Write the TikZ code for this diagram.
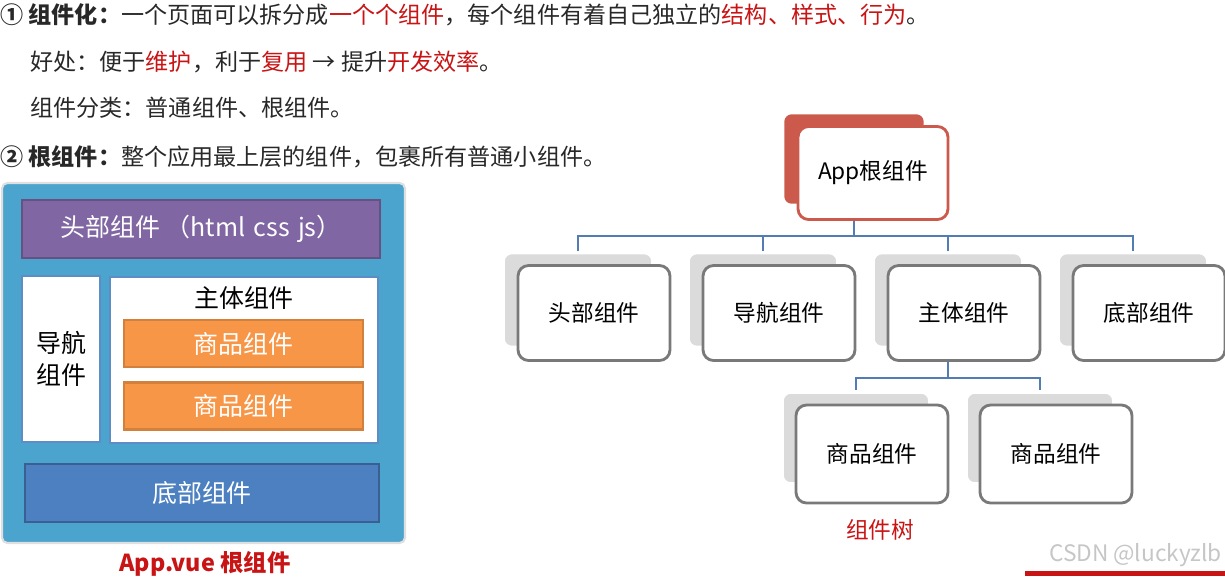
\documentclass[tikz,border=0pt]{standalone}
\usepackage{fontspec}
\setmainfont{Noto Sans CJK SC}
\usepackage{xcolor}
\usepackage{tikz}
\usetikzlibrary{calc}

\definecolor{hlred}{RGB}{200,20,20}
\definecolor{txtgray}{RGB}{40,40,40}
\definecolor{framebl}{RGB}{74,164,206}
\definecolor{headpu}{RGB}{128,102,162}
\definecolor{orng}{RGB}{247,150,70}
\definecolor{footbl}{RGB}{76,128,192}
\definecolor{rootred}{RGB}{203,90,76}
\definecolor{linebl}{RGB}{84,124,180}

\begin{document}
\begin{tikzpicture}[x=0.02cm, y=-0.02cm,
  t/.style={anchor=west, inner sep=0pt, font=\fontsize{13.15}{15}\selectfont, text=txtgray},
  blk/.style={rectangle, draw, line width=1.2pt, inner sep=0pt, font=\fontsize{14.2}{18}\selectfont},
  sh/.style={rectangle, rounded corners=5pt, fill=gray!28, draw=white, line width=2pt,
    minimum width=3cm, minimum height=1.9cm},
  fr/.style={rectangle, rounded corners=6pt, fill=white, draw=gray!95!black, line width=1.6pt,
    minimum width=3.04cm, minimum height=1.9cm, font=\fontsize{12.9}{15}\selectfont},
  conn/.style={linebl, line width=0.7pt}]

\useasboundingbox (0,0) rectangle (1225,576);

% Text lines
\node[t] (l1) at (0,15) {\textbf{① 组件化：}一个页面可以拆分成\textcolor{hlred}{一个个组件}，每个组件有着自己独立的\textcolor{hlred}{结构、样式、行为}。};
\node[t] (l2) at (30,62) {好处：便于\textcolor{hlred}{维护}，利于\textcolor{hlred}{复用} → 提升\textcolor{hlred}{开发效率}。};
\node[t] (l3) at (30,108) {组件分类：普通组件、根组件。};
\node[t] (l4) at (0,157) {\textbf{② 根组件：}整个应用最上层的组件，包裹所有普通小组件。};

% App.vue layout
\node[blk, fill=framebl, draw=gray!25, rounded corners=3pt, minimum width=8.06cm, minimum height=7.2cm] (frame) at (203.5,363) {};
\node[blk, fill=headpu, draw=headpu!80!black, text=white, minimum width=7.16cm, minimum height=1.16cm] (head) at (201,229) {头部组件 （html\,\,css\,\,js）};
\node[blk, fill=white, draw=footbl!90, align=center, minimum width=1.56cm, minimum height=3.32cm] (nav) at (61,359) {导航\\组件};
\node[blk, fill=white, draw=footbl!90, minimum width=5.36cm, minimum height=3.32cm] (body) at (244,360) {};
\node[inner sep=0pt, font=\fontsize{14.2}{18}\selectfont] (bodylbl) at (244,298) {主体组件};
\node[blk, fill=orng, draw=orng!85!black, text=white, minimum width=4.78cm, minimum height=0.94cm] (good1) at (243.5,343.5) {商品组件};
\node[blk, fill=orng, draw=orng!85!black, text=white, minimum width=4.78cm, minimum height=0.94cm] (good2) at (243.5,406) {商品组件};
\node[blk, fill=footbl, draw=footbl!75!black, text=white, minimum width=7.08cm, minimum height=1.16cm] (foot) at (202,493) {底部组件};
\node[inner sep=0pt, font=\bfseries\fontsize{13.3}{17}\selectfont, text=hlred] (cap) at (205,564) {App.vue 根组件};

% Component tree
\node[sh, fill=rootred, minimum width=2.86cm, minimum height=1.86cm] (app-sh) at (854,159) {};
\node[fr, draw=rootred, minimum width=3cm, minimum height=1.86cm] (app) at (873,173) {App根组件};

\node[sh] (head-sh) at (578,300) {};
\node[sh] (nav-sh)  at (763,300) {};
\node[sh] (main-sh) at (948,300) {};
\node[sh] (foot-sh) at (1133,300) {};
\node[fr] (headt) at (594,313) {头部组件};
\node[fr] (navt)  at (779,313) {导航组件};
\node[fr] (main)  at (964,313) {主体组件};
\node[fr] (foott) at (1149,313) {底部组件};

\node[sh, minimum width=2.96cm, minimum height=1.84cm] (item1-sh) at (856,438) {};
\node[sh, minimum width=2.96cm, minimum height=1.84cm] (item2-sh) at (1040,438) {};
\node[fr, minimum height=1.96cm] (item1) at (872,454) {商品组件};
\node[fr, minimum height=1.96cm] (item2) at (1056,454) {商品组件};

\node[inner sep=0pt, font=\fontsize{12.9}{15}\selectfont, text=hlred] (treelbl) at (880,530) {组件树};

% Connectors
\foreach \c in {head,nav,main,foot} { \draw[conn] (app.south -| app-sh) -- ++(0,15) -| (\c-sh.north); }
\foreach \c in {item1,item2} { \draw[conn] (main.south -| main-sh) -- ++(0,16) -| (\c-sh.north); }

% Watermark
\node[inner sep=0pt, anchor=east, font=\fontsize{12.9}{15}\selectfont, text=gray!45] (mark) at (1222,555) {CSDN @luckyzlb};
\fill[hlred] (1025,571) rectangle (1225,576);

\end{tikzpicture}
\end{document}
